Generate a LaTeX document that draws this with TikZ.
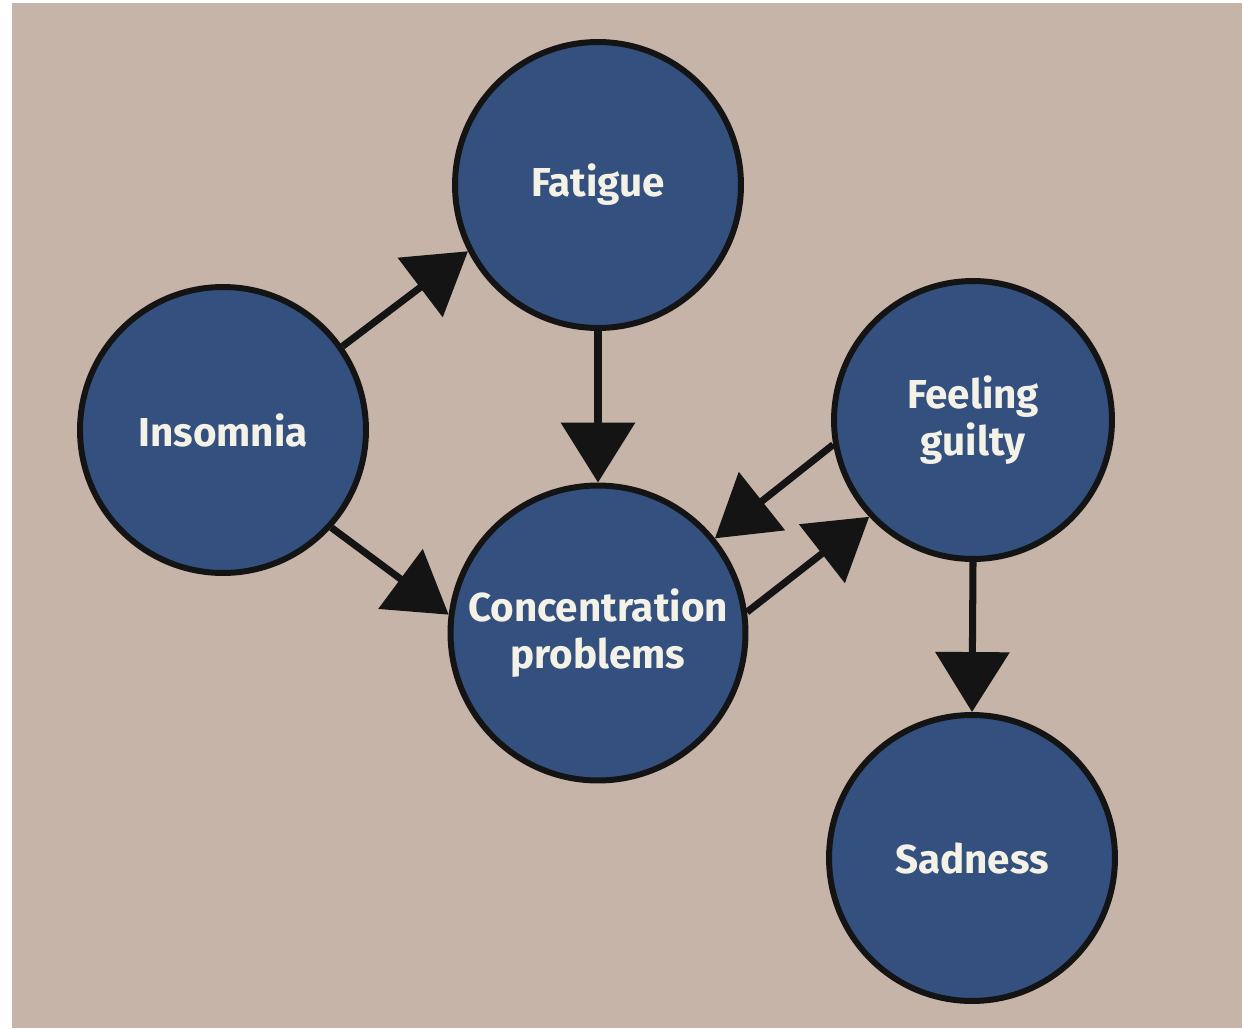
\documentclass[tikz,border=0pt]{standalone}
\usepackage{fontspec}
\setmainfont{Fira Sans}
\usetikzlibrary{arrows.meta}
\definecolor{bgtan}{HTML}{C5B4A7}
\definecolor{nodeblue}{HTML}{34507F}
\definecolor{inkblack}{HTML}{141414}
\definecolor{labelwhite}{HTML}{F4F2E6}
\tikzset{
  bubble/.style={circle, draw=inkblack, line width=3.4pt, fill=nodeblue,
    minimum size=5.72cm, inner sep=0pt, align=center,
    text=labelwhite, font=\fontsize{23}{26.5}\selectfont\bfseries},
  link/.style={draw=inkblack, line width=4pt,
    -{Triangle[width=1.46cm, length=1.2cm]}}
}
\begin{document}
\begin{tikzpicture}[x=0.02cm, y=-0.02cm]
  \useasboundingbox (0,0) rectangle (1243,1028);
  \fill[bgtan] (12,3) rectangle (1242,1028);

  \node[bubble] (fat) at (598,185) {Fatigue};
  \node[bubble] (ins) at (223,430) {Insomnia};
  \node[bubble, minimum size=5.9cm] (conc) at (598,633) {Concentration\\problems};
  \node[bubble, minimum size=5.56cm] (fg) at (973,420) {Feeling\\guilty};
  \node[bubble] (sad) at (972,858) {Sadness};

  \draw[link] (ins.35.5) -- (fat.207.4);
  \draw[link] (ins.318.2) -- (conc.173.8);
  \draw[link] (fat.south) -- (conc.north);
  \draw[link] (fg.190.9) -- (conc.39.7);
  \draw[link] (conc.8) -- (fg.223.9);
  \draw[link] (fg.south) -- (sad.north);
\end{tikzpicture}
\end{document}
